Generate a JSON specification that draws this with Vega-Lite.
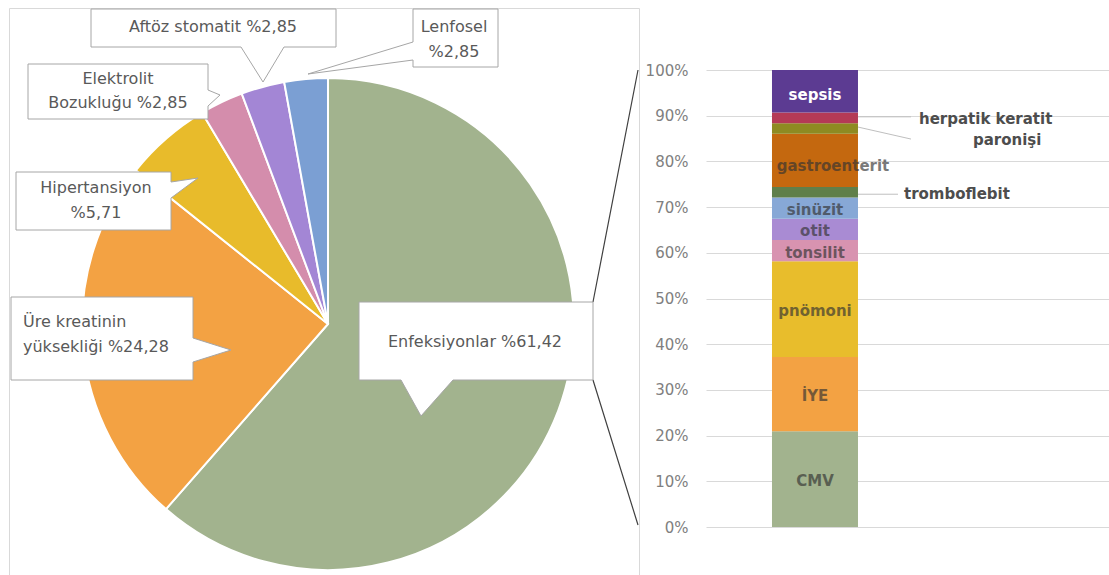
{
  "$schema": "https://vega.github.io/schema/vega-lite/v6.json",
  "background": "white",
  "padding": {"left": 8, "top": 6, "right": 0, "bottom": 2},
  "spacing": 4,
  "config": {
    "view": {"stroke": null},
    "font": "DejaVu Sans",
    "axisY": {"grid": true, "gridColor": "#d9d9d9", "domain": false, "ticks": false, "labelPadding": 18, "labelFont": "DejaVu Sans", "labelFontSize": 15, "labelColor": "#808080"}
  },
  "resolve": {"scale": {"color": "independent"}},
  "datasets": {
    "pasta": [
      {"sira": 1, "kategori": "Enfeksiyonlar", "yuzde": 61.42, "etiket": "Enfeksiyonlar %61,42"},
      {"sira": 2, "kategori": "Üre kreatinin yüksekliği", "yuzde": 24.28, "etiket": "Üre kreatinin|yüksekliği %24,28"},
      {"sira": 3, "kategori": "Hipertansiyon", "yuzde": 5.71, "etiket": "Hipertansiyon|%5,71"},
      {"sira": 4, "kategori": "Elektrolit Bozukluğu", "yuzde": 2.85, "etiket": "Elektrolit|Bozukluğu %2,85"},
      {"sira": 5, "kategori": "Aftöz stomatit", "yuzde": 2.85, "etiket": "Aftöz stomatit %2,85"},
      {"sira": 6, "kategori": "Lenfosel", "yuzde": 2.85, "etiket": "Lenfosel|%2,85"}
    ],
    "enfeksiyon": [
      {"sira": 1, "grup": "Enfeksiyonlar", "ad": "CMV", "n": 9},
      {"sira": 2, "grup": "Enfeksiyonlar", "ad": "İYE", "n": 7},
      {"sira": 3, "grup": "Enfeksiyonlar", "ad": "pnömoni", "n": 9},
      {"sira": 4, "grup": "Enfeksiyonlar", "ad": "tonsilit", "n": 2},
      {"sira": 5, "grup": "Enfeksiyonlar", "ad": "otit", "n": 2},
      {"sira": 6, "grup": "Enfeksiyonlar", "ad": "sinüzit", "n": 2},
      {"sira": 7, "grup": "Enfeksiyonlar", "ad": "tromboflebit", "n": 1},
      {"sira": 8, "grup": "Enfeksiyonlar", "ad": "gastroenterit", "n": 5},
      {"sira": 9, "grup": "Enfeksiyonlar", "ad": "paronişi", "n": 1},
      {"sira": 10, "grup": "Enfeksiyonlar", "ad": "herpatik keratit", "n": 1},
      {"sira": 11, "grup": "Enfeksiyonlar", "ad": "sepsis", "n": 4}
    ]
  },
  "hconcat": [
    {
      "width": 630,
      "height": 567,
      "view": {"stroke": "#d9d9d9", "strokeWidth": 1},
      "data": {"name": "pasta"},
      "layer": [
        {
          "mark": {"type": "arc", "radius": 246, "stroke": "white", "strokeWidth": 2, "xOffset": 4, "yOffset": 32.5},
          "encoding": {
            "theta": {"field": "yuzde", "type": "quantitative", "stack": true},
            "order": {"field": "sira", "type": "quantitative"},
            "color": {
              "field": "kategori", "type": "nominal", "legend": null,
              "scale": {
                "domain": ["Enfeksiyonlar", "Üre kreatinin yüksekliği", "Hipertansiyon", "Elektrolit Bozukluğu", "Aftöz stomatit", "Lenfosel"],
                "range": ["#a2b38e", "#f3a243", "#e8bb2b", "#d48dac", "#a386d5", "#7b9fd3"]
              }
            }
          }
        },
        {
          "transform": [{"filter": "datum.sira == 1"}],
          "layer": [
            {"mark": {"type": "point", "shape": "M265,-22L310,-254M265,56L310,201", "size": 4, "filled": false, "stroke": "#404040", "strokeWidth": 1.2, "opacity": 1, "xOffset": 4, "yOffset": 32.5}, "encoding": {}},
            {"mark": {"type": "point", "shape": "M31,-22H265V56H125L93,92L73,56H31Z", "size": 4, "filled": true, "fill": "white", "stroke": "#a6a6a6", "strokeWidth": 1, "opacity": 1, "xOffset": 4, "yOffset": 32.5}, "encoding": {}},
            {"mark": {"type": "text", "align": "center", "baseline": "middle", "dx": 151, "dy": 50.5, "fontSize": 16, "lineHeight": 25, "lineBreak": "|", "color": "#595959"}, "encoding": {"text": {"field": "etiket"}}}
          ]
        },
        {
          "transform": [{"filter": "datum.sira == 2"}],
          "layer": [
            {"mark": {"type": "point", "shape": "M-317,-27H-135V14L-97,26L-135,38V56H-317Z", "size": 4, "filled": true, "fill": "white", "stroke": "#a6a6a6", "strokeWidth": 1, "opacity": 1, "xOffset": 4, "yOffset": 32.5}, "encoding": {}},
            {"mark": {"type": "text", "align": "left", "baseline": "middle", "dx": -301, "dy": 30.5, "fontSize": 16, "lineHeight": 25, "lineBreak": "|", "color": "#595959"}, "encoding": {"text": {"field": "etiket"}}}
          ]
        },
        {
          "transform": [{"filter": "datum.sira == 3"}],
          "layer": [
            {"mark": {"type": "point", "shape": "M-312,-152H-157V-142L-130,-146L-157,-126V-94H-312Z", "size": 4, "filled": true, "fill": "white", "stroke": "#a6a6a6", "strokeWidth": 1, "opacity": 1, "xOffset": 4, "yOffset": 32.5}, "encoding": {}},
            {"mark": {"type": "text", "align": "center", "baseline": "middle", "dx": -228, "dy": -103.5, "fontSize": 16, "lineHeight": 25, "lineBreak": "|", "color": "#595959"}, "encoding": {"text": {"field": "etiket"}}}
          ]
        },
        {
          "transform": [{"filter": "datum.sira == 4"}],
          "layer": [
            {"mark": {"type": "point", "shape": "M-300,-260H-120V-234L-108,-229L-120,-218V-205H-300Z", "size": 4, "filled": true, "fill": "white", "stroke": "#a6a6a6", "strokeWidth": 1, "opacity": 1, "xOffset": 4, "yOffset": 32.5}, "encoding": {}},
            {"mark": {"type": "text", "align": "center", "baseline": "middle", "dx": -206, "dy": -212.5, "fontSize": 16, "lineHeight": 24, "lineBreak": "|", "color": "#595959"}, "encoding": {"text": {"field": "etiket"}}}
          ]
        },
        {
          "transform": [{"filter": "datum.sira == 5"}],
          "layer": [
            {"mark": {"type": "point", "shape": "M-237,-315H8V-277H-44L-65,-242L-87,-277H-237Z", "size": 4, "filled": true, "fill": "white", "stroke": "#a6a6a6", "strokeWidth": 1, "opacity": 1, "xOffset": 4, "yOffset": 32.5}, "encoding": {}},
            {"mark": {"type": "text", "align": "center", "baseline": "middle", "dx": -111, "dy": -264.5, "fontSize": 16, "lineHeight": 25, "lineBreak": "|", "color": "#595959"}, "encoding": {"text": {"field": "etiket"}}}
          ]
        },
        {
          "transform": [{"filter": "datum.sira == 6"}],
          "layer": [
            {"mark": {"type": "point", "shape": "M85,-315H170V-257H85V-264L-20,-250L85,-282Z", "size": 4, "filled": true, "fill": "white", "stroke": "#a6a6a6", "strokeWidth": 1, "opacity": 1, "xOffset": 4, "yOffset": 32.5}, "encoding": {}},
            {"mark": {"type": "text", "align": "center", "baseline": "middle", "dx": 130, "dy": -264.5, "fontSize": 16, "lineHeight": 25, "lineBreak": "|", "color": "#595959"}, "encoding": {"text": {"field": "etiket"}}}
          ]
        }
      ]
    },
    {
      "width": 404,
      "height": 567,
      "data": {"name": "enfeksiyon"},
      "transform": [
        {"joinaggregate": [{"op": "sum", "field": "n", "as": "toplam"}]},
        {"window": [{"op": "sum", "field": "n", "as": "kum"}], "sort": [{"field": "sira", "order": "ascending"}], "frame": [null, 0]},
        {"calculate": "(datum.kum - datum.n) / datum.toplam", "as": "y_bas"},
        {"calculate": "datum.kum / datum.toplam", "as": "y_son"},
        {"calculate": "(datum.kum - datum.n / 2) / datum.toplam", "as": "y_orta"}
      ],
      "encoding": {
        "x": {"field": "grup", "type": "nominal", "axis": null, "scale": {"paddingInner": 0.4591, "paddingOuter": 1, "align": 0.2075}}
      },
      "layer": [
        {
          "mark": {"type": "bar"},
          "encoding": {
            "y": {
              "field": "y_bas", "type": "quantitative",
              "scale": {"domain": [-0.10503, 1.13567], "nice": false, "zero": false},
              "axis": {"values": [0, 0.1, 0.2, 0.3, 0.4, 0.5, 0.6, 0.7, 0.8, 0.9, 1], "format": ".0%", "title": null}
            },
            "y2": {"field": "y_son"},
            "color": {
              "field": "ad", "type": "nominal", "legend": null,
              "scale": {
                "domain": ["CMV", "İYE", "pnömoni", "tonsilit", "otit", "sinüzit", "tromboflebit", "gastroenterit", "paronişi", "herpatik keratit", "sepsis"],
                "range": ["#a2b38e", "#f3a243", "#e8bd2c", "#d893b0", "#a98bd3", "#87a8d6", "#5f7f4a", "#c4680f", "#8e8b22", "#b43a56", "#5c3b92"]
              }
            }
          }
        },
        {
          "transform": [{"filter": "indexof(['CMV','İYE','pnömoni','tonsilit','otit','sinüzit'], datum.ad) >= 0"}],
          "mark": {"type": "text", "align": "center", "baseline": "middle", "dy": 2, "fontSize": 15, "fontWeight": "bold", "color": "#333333", "opacity": 0.65},
          "encoding": {
            "y": {"field": "y_orta", "type": "quantitative", "axis": {"values": [0, 0.1, 0.2, 0.3, 0.4, 0.5, 0.6, 0.7, 0.8, 0.9, 1], "format": ".0%", "title": null}},
            "text": {"field": "ad"}
          }
        },
        {
          "transform": [{"filter": "datum.ad == 'gastroenterit'"}],
          "mark": {"type": "text", "align": "center", "baseline": "middle", "dx": 18, "dy": 6, "fontSize": 15, "fontWeight": "bold", "color": "#333333", "opacity": 0.65},
          "encoding": {
            "y": {"field": "y_orta", "type": "quantitative", "axis": {"values": [0, 0.1, 0.2, 0.3, 0.4, 0.5, 0.6, 0.7, 0.8, 0.9, 1], "format": ".0%", "title": null}},
            "text": {"field": "ad"}
          }
        },
        {
          "transform": [{"filter": "datum.ad == 'sepsis'"}],
          "mark": {"type": "text", "align": "center", "baseline": "middle", "dy": 4, "fontSize": 15, "fontWeight": "bold", "color": "white"},
          "encoding": {
            "y": {"field": "y_orta", "type": "quantitative", "axis": {"values": [0, 0.1, 0.2, 0.3, 0.4, 0.5, 0.6, 0.7, 0.8, 0.9, 1], "format": ".0%", "title": null}},
            "text": {"field": "ad"}
          }
        },
        {
          "transform": [{"filter": "datum.ad == 'herpatik keratit'"}],
          "layer": [
            {"mark": {"type": "rule", "color": "#bfbfbf", "strokeWidth": 1, "xOffset": 43, "x2Offset": 96, "yOffset": -1, "y2Offset": -1},
             "encoding": {"x2": {"field": "grup"}, "y": {"field": "y_orta", "type": "quantitative", "axis": {"values": [0, 0.1, 0.2, 0.3, 0.4, 0.5, 0.6, 0.7, 0.8, 0.9, 1], "format": ".0%", "title": null}}, "y2": {"field": "y_orta"}}},
            {"mark": {"type": "text", "align": "left", "baseline": "middle", "dx": 104, "dy": 1, "fontSize": 15, "fontWeight": "bold", "color": "#4d4d4d"},
             "encoding": {"y": {"field": "y_orta", "type": "quantitative", "axis": {"values": [0, 0.1, 0.2, 0.3, 0.4, 0.5, 0.6, 0.7, 0.8, 0.9, 1], "format": ".0%", "title": null}}, "text": {"field": "ad"}}}
          ]
        },
        {
          "transform": [{"filter": "datum.ad == 'paronişi'"}],
          "layer": [
            {"mark": {"type": "rule", "color": "#bfbfbf", "strokeWidth": 1, "xOffset": 43, "x2Offset": 96, "yOffset": -1.4, "y2Offset": 10.6},
             "encoding": {"x2": {"field": "grup"}, "y": {"field": "y_orta", "type": "quantitative", "axis": {"values": [0, 0.1, 0.2, 0.3, 0.4, 0.5, 0.6, 0.7, 0.8, 0.9, 1], "format": ".0%", "title": null}}, "y2": {"field": "y_orta"}}},
            {"mark": {"type": "text", "align": "left", "baseline": "middle", "dx": 158, "dy": 12, "fontSize": 15, "fontWeight": "bold", "color": "#4d4d4d"},
             "encoding": {"y": {"field": "y_orta", "type": "quantitative", "axis": {"values": [0, 0.1, 0.2, 0.3, 0.4, 0.5, 0.6, 0.7, 0.8, 0.9, 1], "format": ".0%", "title": null}}, "text": {"field": "ad"}}}
          ]
        },
        {
          "transform": [{"filter": "datum.ad == 'tromboflebit'"}],
          "layer": [
            {"mark": {"type": "rule", "color": "#bfbfbf", "strokeWidth": 1, "xOffset": 43, "x2Offset": 83, "yOffset": 2, "y2Offset": 2},
             "encoding": {"x2": {"field": "grup"}, "y": {"field": "y_orta", "type": "quantitative", "axis": {"values": [0, 0.1, 0.2, 0.3, 0.4, 0.5, 0.6, 0.7, 0.8, 0.9, 1], "format": ".0%", "title": null}}, "y2": {"field": "y_orta"}}},
            {"mark": {"type": "text", "align": "left", "baseline": "middle", "dx": 89, "dy": 2, "fontSize": 15, "fontWeight": "bold", "color": "#4d4d4d"},
             "encoding": {"y": {"field": "y_orta", "type": "quantitative", "axis": {"values": [0, 0.1, 0.2, 0.3, 0.4, 0.5, 0.6, 0.7, 0.8, 0.9, 1], "format": ".0%", "title": null}}, "text": {"field": "ad"}}}
          ]
        }
      ]
    }
  ]
}
